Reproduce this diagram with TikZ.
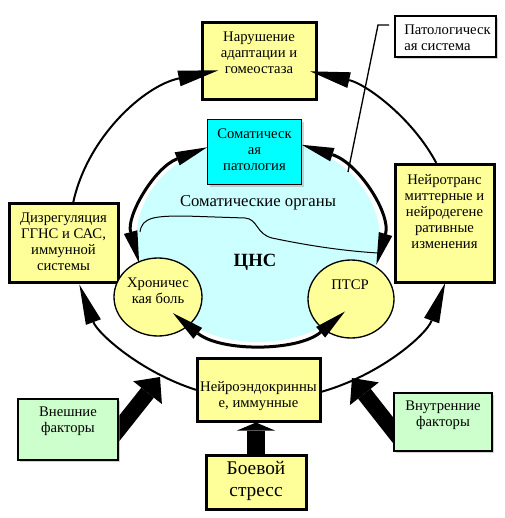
\documentclass[tikz,border=0pt]{standalone}
\usepackage{fontspec}
\setmainfont{Liberation Serif}
\usetikzlibrary{arrows.meta,shapes.geometric,shadows,backgrounds}

\definecolor{boxyellow}{RGB}{255,255,153}
\definecolor{boxgreen}{RGB}{204,255,204}
\definecolor{boxcyan}{RGB}{0,255,255}
\definecolor{cnsblue}{RGB}{204,255,255}

\tikzset{
  txt/.style={align=center, inner sep=0pt, font=\fontsize{11}{12}\selectfont},
  shade box/.style={drop shadow={shadow xshift=1.5pt, shadow yshift=-1.5pt, fill=black!35}},
  ybox/.style={draw, line width=2.25pt, fill=boxyellow, shade box},
  gbox/.style={draw, line width=1.8pt, fill=boxgreen, shade box},
  cbox/.style={draw, line width=0.75pt, fill=boxcyan, shade box},
  wbox/.style={draw, line width=1.5pt, fill=white, shade box},
  oval/.style={ellipse, draw, line width=1pt, fill=boxyellow},
  ringarrow/.style={line width=1.5pt, arrows={-Triangle[length=30pt, width=12pt, line width=0pt]}},
  cnsarrow/.style={line width=2.25pt, arrows={Triangle[length=24pt, width=10.5pt, line width=0pt]-Triangle[length=24pt, width=10.5pt, line width=0pt]}},
  fatarrow/.style={line width=12pt, arrows={-Triangle[length=15pt, width=27.5pt, line width=0pt]}},
  stressarrow/.style={line width=13.5pt, arrows={-Triangle[length=6pt, width=28.5pt, line width=0pt]}},
}

\begin{document}
\begin{tikzpicture}[x=0.75pt, y=-0.75pt]
  \useasboundingbox (0,0) rectangle (505,518);

  % centres of the outer ring and of the CNS oval
  \coordinate (ring) at (262,233);
  \coordinate (cns) at (258,240);
  \coordinate (bend) at (378,25);
  \coordinate (cnsedge) at (348,172);
  \coordinate (extip) at (160,377);
  \coordinate (intip) at (352,378);

  % CNS oval and the border of the organs
  \fill[cnsblue] (cns) ellipse [x radius=122, y radius=102];
  \draw[line width=0.75pt] (140,232) .. controls (142,217) and (155,216) .. (185,216)
    -- (245,218) .. controls (258,219) and (256,234) .. (272,238)
    .. controls (310,246) and (345,251) .. (378,253);

  % boxes
  \node[ybox, minimum width=85.5pt, minimum height=57.75pt] (adapt) at (259,60.5) {};
  \node[wbox, minimum width=75.75pt, minimum height=30.75pt] (patho) at (445.5,36.5) {};
  \node[cbox, minimum width=70.5pt, minimum height=48.75pt] (somat) at (254.5,152) {};
  \node[ybox, minimum width=74.25pt, minimum height=88.5pt] (neurot) at (444.5,223) {};
  \node[ybox, minimum width=81.75pt, minimum height=59.25pt] (dysreg) at (63.5,242.5) {};
  \node[ybox, minimum width=92.25pt, minimum height=47.25pt] (neuroend) at (258.5,389.5) {};
  \node[ybox, minimum width=75pt, minimum height=40.5pt] (stress) at (256,482) {};
  \node[gbox, minimum width=75pt, minimum height=45.75pt] (extern) at (68,429.5) {};
  \node[gbox, minimum width=73.5pt, minimum height=43.5pt] (intern) at (443,422) {};

  % ovals inside the CNS
  \node[oval, minimum width=66pt, minimum height=58.5pt] (chron) at (158,297) {};
  \node[oval, minimum width=64.5pt, minimum height=58.5pt] (ptsr) at (351,299) {};

  % pointer of the pathological system
  \draw[line width=1pt] (bend -| patho.west) ++(-5,0) -- (bend) -- (cnsedge);

  % factors
  \begin{scope}[on background layer]
    \draw[fatarrow] ([xshift=-7pt, yshift=-8pt]extern.east) -- (extip);
    \draw[fatarrow] ([xshift=7pt, yshift=-14.8pt]intern.west) -- (intip);
    \draw[stressarrow] (stress.north) -- (stress.north |- neuroend.south);
  \end{scope}

  % outer ring
  \draw[ringarrow] (ring) ++(190.7:192 and 167) arc[start angle=190.7, end angle=256.8, x radius=192, y radius=167];
  \draw[ringarrow] (ring) ++(335.2:192 and 167) arc[start angle=335.2, end angle=284.5, x radius=192, y radius=167];
  \draw[ringarrow] (ring) ++(110.1:192 and 167) arc[start angle=110.1, end angle=162, x radius=192, y radius=167];
  \draw[ringarrow] (ring) ++(72.1:192 and 167) arc[start angle=72.1, end angle=17.4, x radius=192, y radius=167];

  % arcs of the CNS oval
  \draw[cnsarrow] (cns) ++(245.3:122 and 102) arc[start angle=245.3, end angle=167, x radius=122, y radius=102];
  \draw[cnsarrow] (cns) ++(291.1:122 and 102) arc[start angle=291.1, end angle=374, x radius=122, y radius=102];
  \draw[cnsarrow] (cns) ++(134.2:122 and 102) arc[start angle=134.2, end angle=44.5, x radius=122, y radius=102];

  % texts
  \node[txt] (adapt-t) at (259,53) {Нарушение\\адаптации и\\гомеостаза};
  \node[txt, align=left, anchor=west] (patho-t) at (404,37.5) {Патологическ\\ая система};
  \node[txt] (somat-t) at (254.5,150) {Соматическ\\ая\\патология};
  \node[txt] (neurot-t) at (444.5,211.5) {Нейротранс\\миттерные и\\нейродегене\\ративные\\изменения};
  \node[txt] (dysreg-t) at (63.5,242) {Дизрегуляция\\ГГНС и САС,\\иммунной\\системы};
  \node[txt] (chron-t) at (158,290.5) {Хроничес\\кая боль};
  \node[txt] (ptsr-t) at (350,285) {ПТСР};
  \node[txt] (neuroend-t) at (258.5,396) {Нейроэндокринны\\е, иммунные};
  \node[txt, font=\fontsize{14.5}{16.5}\selectfont] (stress-t) at (256,481) {Боевой\\стресс};
  \node[txt] (extern-t) at (68,421.5) {Внешние\\факторы};
  \node[txt] (intern-t) at (443,415) {Внутренние\\факторы};
  \node[txt, font=\fontsize{12.5}{14}\selectfont] (organs) at (258,203) {Соматические органы};
  \node[txt, font=\bfseries\fontsize{14}{16}\selectfont] (cns-t) at (255,262) {ЦНС};
\end{tikzpicture}
\end{document}
